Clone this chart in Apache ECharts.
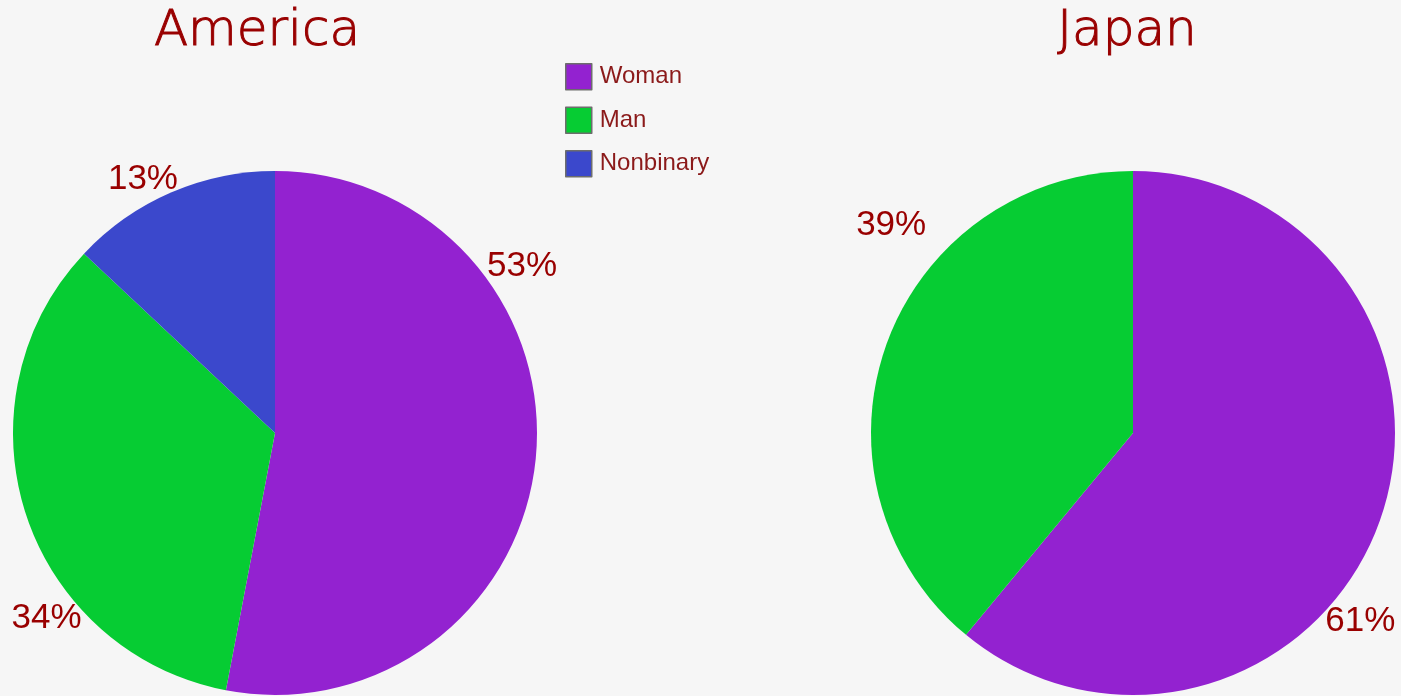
<!DOCTYPE html>
<html>
<head>
<meta charset="utf-8">
<script src="https://cdn.jsdelivr.net/npm/echarts@6/dist/echarts.min.js"></script>
<style>
  html, body { margin: 0; padding: 0; background: #f6f6f6; }
  #chart { width: 1401px; height: 696px; }
</style>
</head>
<body>
<div id="chart"></div>
<script>
// Gender split by country
const categories = ['Woman', 'Man', 'Nonbinary'];
const colors = ['#9322d0', '#06cc33', '#3b48cc'];
const americaValues = [53, 34, 13];
const japanValues = [61, 39, 0];
const titles = ['America', 'Japan'];

// Pie geometry and where each percentage label sits around its pie
// (angle in degrees clockwise from 12 o'clock, distance from centre in px)
const pieCenters = [[275, 433], [1133, 433]];
const pieRadius = 262;
const labelPlacement = [
  [[56, 298], [231, 294], [332.5, 286]],
  [[129.6, 295], [310.7, 319]]
];

function toData(values) {
  return categories.map((name, i) => ({ name, value: values[i] }))
    .filter(d => d.value > 0);
}

function pieSeries(values, idx) {
  return {
    type: 'pie',
    center: pieCenters[idx],
    radius: pieRadius,
    startAngle: 90,
    clockwise: true,
    avoidLabelOverlap: false,
    data: toData(values),
    label: {
      show: true,
      position: 'outside',
      formatter: '{c}%',
      color: '#990000',
      fontSize: 35,
      fontFamily: 'Liberation Sans, Arial, sans-serif'
    },
    labelLine: { show: false },
    labelLayout: function (p) {
      const [deg, dist] = labelPlacement[idx][p.dataIndex];
      const a = deg * Math.PI / 180;
      const c = pieCenters[idx];
      return {
        x: c[0] + Math.sin(a) * dist,
        y: c[1] - Math.cos(a) * dist,
        align: 'center',
        verticalAlign: 'middle'
      };
    },
    itemStyle: { borderWidth: 0 },
    emphasis: { disabled: true }
  };
}

const titleStyle = {
  color: '#990000', fontSize: 50, fontWeight: 200,
  fontFamily: 'DejaVu Sans, sans-serif',
  textBorderColor: '#990000', textBorderWidth: 1
};

const chart = echarts.init(document.getElementById('chart'));
chart.setOption({
  backgroundColor: '#f6f6f6',
  color: colors,
  animation: false,
  title: [
    { text: titles[0], left: 252, top: 2, textAlign: 'center', textStyle: titleStyle },
    { text: titles[1], left: 1122, top: 2, textAlign: 'center', textStyle: titleStyle }
  ],
  legend: {
    data: categories,
    orient: 'vertical',
    left: 565,
    top: 63,
    padding: 0,
    itemWidth: 26,
    itemHeight: 26,
    itemGap: 16,
    icon: 'rect',
    itemStyle: { borderColor: '#6d6d6d', borderWidth: 1.5 },
    textStyle: {
      color: '#8b1a1a', fontSize: 24, lineHeight: 26,
      fontFamily: 'Liberation Sans, Arial, sans-serif',
      padding: [0, 0, 0, 3]
    }
  },
  series: [
    pieSeries(americaValues, 0),
    pieSeries(japanValues, 1)
  ]
});
</script>
</body>
</html>
